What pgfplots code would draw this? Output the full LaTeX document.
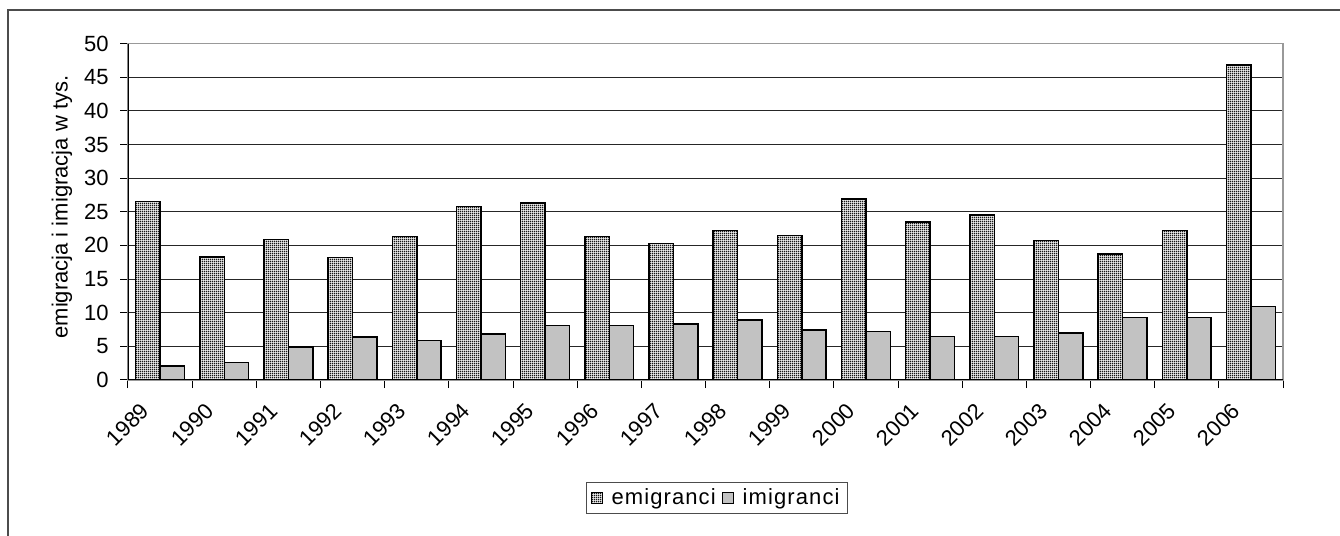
\documentclass[border=0pt]{standalone}
\usepackage{fontspec}
\setmainfont{Liberation Sans}
\usepackage{pgfplots}
\usepackage{pgfplotstable}
\pgfplotsset{compat=1.18}
\usetikzlibrary{patterns}
\pgfdeclarepatternformonly{finegrid}{\pgfpointorigin}{\pgfpoint{1pt}{1pt}}{\pgfpoint{1pt}{1pt}}{%
  \pgfsetlinewidth{0.6pt}%
  \pgfpathmoveto{\pgfpoint{0pt}{0.5pt}}\pgfpathlineto{\pgfpoint{1pt}{0.5pt}}%
  \pgfpathmoveto{\pgfpoint{0.5pt}{0pt}}\pgfpathlineto{\pgfpoint{0.5pt}{1pt}}%
  \pgfusepath{stroke}}
\pgfplotstableread{
x emig imig
0 26.5 2.1
1 18.3 2.6
2 20.9 4.9
3 18.2 6.4
4 21.3 5.9
5 25.8 6.8
6 26.3 8.1
7 21.3 8.1
8 20.3 8.3
9 22.2 8.9
10 21.5 7.4
11 26.9 7.2
12 23.5 6.5
13 24.5 6.5
14 20.7 7.0
15 18.7 9.3
16 22.2 9.3
17 46.8 10.9
}\data
\begin{document}
\begin{tikzpicture}
\useasboundingbox (0,0) rectangle (670pt,268pt);
\draw[line width=0.75pt, black!70] (4pt,-2pt) -- (4pt,263pt) -- (672pt,263pt);
\begin{axis}[
  at={(64pt,78pt)}, anchor=south west, scale only axis,
  width=577.5pt, height=168.25pt,
  xmin=-0.5, xmax=17.5, ymin=0, ymax=50,
  ybar=0pt, bar width=0.38,
  font=\fontsize{11}{13}\selectfont,
  /pgf/number format/assume math mode=true,
  xtick={-0.2275,0.7725,...,16.8},
  xticklabels={1989,1990,1991,1992,1993,1994,1995,1996,1997,1998,1999,2000,2001,2002,2003,2004,2005,2006},
  minor xtick={-0.5,0.5,...,17.5},
  ytick={0,5,...,50},
  minor ytick={0,5,...,50},
  tick pos=left,
  tick align=outside,
  major tick length=0pt, minor tick length=4pt,
  major tick style={draw=none},
  minor tick style={black, line width=0.5pt},
  ymajorgrids, grid style={black!85, line width=0.5pt},
  axis line style={draw=gray!80, line width=0.6pt},
  yticklabel style={inner sep=0pt, xshift=-9.5pt},
  xticklabel style={anchor=east, inner sep=0pt, rotate=45},
  xticklabel shift=13.5pt,
  ylabel={emigracja i imigracja w tys.},
  every axis y label/.style={at={(axis description cs:-0.0571,0.514)}, rotate=90, anchor=center},
  legend style={at={(0.51,-0.3507)}, anchor=center, legend columns=2,
    draw=black!70, line width=0.6pt, inner xsep=2pt, inner ysep=1pt,
    font=\fontsize{11}{13}\selectfont\addfontfeature{LetterSpace=5},
    /tikz/every odd column/.append style={column sep=2.5pt},
    /tikz/every even column/.append style={column sep=1pt}},
  legend image code/.code={\draw[#1, line width=0.5pt] (0pt,-2.75pt) rectangle (5.5pt,2.75pt);},
]
\addplot[draw=black, line width=0.75pt, fill=white, postaction={pattern=finegrid, pattern color=black}] table[x=x, y=emig] {\data};
\addplot[draw=black, line width=0.75pt, fill=black!24] table[x=x, y=imig] {\data};
\legend{emigranci, imigranci}
\draw[black, line width=0.6pt] (rel axis cs:0,1) -- (rel axis cs:0,0) -- (rel axis cs:1,0);
\end{axis}
\end{tikzpicture}
\end{document}
